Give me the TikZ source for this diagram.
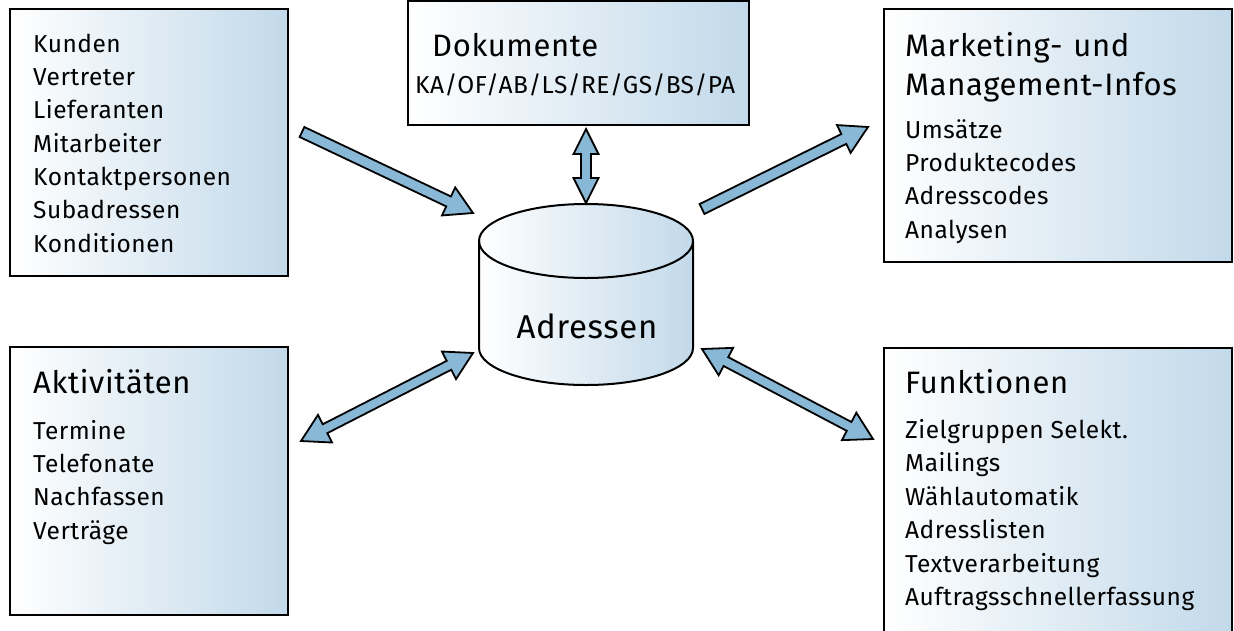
\documentclass[tikz,border=0pt]{standalone}
\usepackage{fontspec}
\setmainfont{Fira Sans}[LetterSpace=2]
\usetikzlibrary{calc}
\definecolor{boxblue}{RGB}{194,217,234}
\definecolor{arrowblue}{RGB}{137,184,214}
\newcommand{\itemfont}{\fontsize{24.5}{28}\selectfont}
\newcommand{\titlefont}{\fontsize{31}{36}\selectfont}
% single block arrow from #1 to #2
\newcommand{\singlearrow}[2]{%
  \filldraw[arrowfill]
    ($(#1)!5.5pt!90:(#2)$) --
    ($(#2)!27pt!(#1)!5.5pt!90:(#2)$) --
    ($(#2)!27pt!(#1)!15.5pt!90:(#2)$) --
    (#2) --
    ($(#2)!27pt!(#1)!15.5pt!-90:(#2)$) --
    ($(#2)!27pt!(#1)!5.5pt!-90:(#2)$) --
    ($(#1)!5.5pt!-90:(#2)$) -- cycle;}
% double block arrow between #1 and #2, shaft half width #3, head half width #4, head length #5
\newcommand{\doublearrow}[5]{%
  \filldraw[arrowfill]
    (#1) --
    ($(#1)!#5!(#2)!#4!90:(#2)$) --
    ($(#1)!#5!(#2)!#3!90:(#2)$) --
    ($(#2)!#5!(#1)!#3!90:(#2)$) --
    ($(#2)!#5!(#1)!#4!90:(#2)$) --
    (#2) --
    ($(#2)!#5!(#1)!#4!-90:(#2)$) --
    ($(#2)!#5!(#1)!#3!-90:(#2)$) --
    ($(#1)!#5!(#2)!#3!-90:(#2)$) --
    ($(#1)!#5!(#2)!#4!-90:(#2)$) -- cycle;}
\begin{document}
\begin{tikzpicture}[x=1pt,y=-1pt,
  boxfill/.style={left color=white,right color=boxblue},
  arrowfill/.style={fill=arrowblue,draw=black,line width=1.8pt,line join=miter},
  itm/.style={anchor=base west,inner sep=0pt,font=\itemfont},
  ttl/.style={anchor=base west,inner sep=0pt,font=\titlefont}]
\useasboundingbox (0,0) rectangle (1234,630);
\fill[white] (0,0) rectangle (1234,630);

% boxes
\path[boxfill] (10,9) rectangle (288,276);
\draw[line width=2pt] (10,9) rectangle (288,276);
\path[boxfill] (408,1) rectangle (749,125);
\draw[line width=2pt] (408,1) rectangle (749,125);
\path[boxfill] (884,9) rectangle (1232,262);
\draw[line width=2pt] (884,9) rectangle (1232,262);
\path[boxfill] (10,347) rectangle (288,615);
\draw[line width=2pt] (10,347) rectangle (288,615);
\path[boxfill] (884,348) rectangle (1232,630);
\draw[line width=2pt] (884,631) -- (884,348) -- (1232,348) -- (1232,631);

% box 1 texts
\node[itm] (k1) at (33,52) {Kunden};
\node[itm] (k2) at (33,85.3) {Vertreter};
\node[itm] (k3) at (33,118.6) {Lieferanten};
\node[itm] (k4) at (33,152) {Mitarbeiter};
\node[itm] (k5) at (33,185.3) {Kontaktpersonen};
\node[itm] (k6) at (33,218.6) {Subadressen};
\node[itm] (k7) at (33,252) {Konditionen};

% Dokumente
\node[ttl] (dt) at (432,56) {Dokumente};
\node[itm] (d1) at (415,93) {KA/OF/AB/LS/RE/GS/BS/PA};

% Marketing
\node[ttl] (mt1) at (905,56) {Marketing-\hspace{0.35em}und};
\node[ttl] (mt2) at (905,95) {Management-Infos};
\node[itm] (m1) at (905,138) {Umsätze};
\node[itm] (m2) at (905,171.3) {Produktecodes};
\node[itm] (m3) at (905,204.6) {Adresscodes};
\node[itm] (m4) at (905,238) {Analysen};

% Aktivitaeten
\node[ttl] (at) at (33,393) {Aktivitäten};
\node[itm] (a1) at (33,439) {Termine};
\node[itm] (a2) at (33,472.3) {Telefonate};
\node[itm] (a3) at (33,505.6) {Nachfassen};
\node[itm] (a4) at (33,539) {Verträge};

% Funktionen
\node[ttl] (ft) at (905,393) {Funktionen};
\node[itm] (f1) at (905,438) {Zielgruppen Selekt.};
\node[itm] (f2) at (905,471.5) {Mailings};
\node[itm] (f3) at (905,505) {Wählautomatik};
\node[itm] (f4) at (905,538.5) {Adresslisten};
\node[itm] (f5) at (905,572) {Textverarbeitung};
\node[itm] (f6) at (905,605.5) {Auftragsschnellerfassung};

% cylinder
\path[boxfill] (479,241) -- (479,348)
  arc[start angle=180,end angle=360,x radius=107pt,y radius=37pt]
  -- (693,241)
  arc[start angle=0,end angle=180,x radius=107pt,y radius=37pt] -- cycle;
\draw[line width=2pt] (479,241) -- (479,348)
  arc[start angle=180,end angle=360,x radius=107pt,y radius=37pt]
  -- (693,241);
\draw[line width=2pt] (586,241) ellipse[x radius=107pt,y radius=37pt];
\node[anchor=base,inner sep=0pt,font=\fontsize{33}{38}\selectfont] (db) at (587,338) {Adressen};

% arrow end points
\coordinate (a1s) at (302,132);
\coordinate (a1e) at (473,213);
\coordinate (a2s) at (586,129);
\coordinate (a2e) at (586,203);
\coordinate (a3s) at (702,209);
\coordinate (a3e) at (868,127);
\coordinate (a4s) at (301,441);
\coordinate (a4e) at (473,353);
\coordinate (a5s) at (702,349);
\coordinate (a5e) at (873,439);

\singlearrow{a1s}{a1e}
\doublearrow{a2s}{a2e}{5pt}{12.5pt}{25pt}
\singlearrow{a3s}{a3e}
\doublearrow{a4s}{a4e}{5pt}{15.5pt}{27pt}
\doublearrow{a5s}{a5e}{5pt}{15.5pt}{27pt}
\end{tikzpicture}
\end{document}
